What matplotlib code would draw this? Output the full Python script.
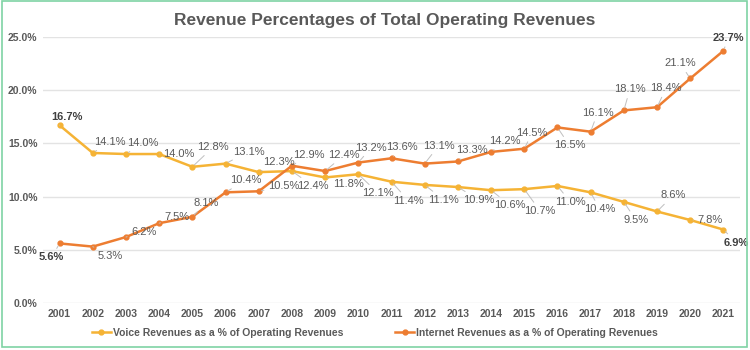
"""
Revenue percentages of total operating revenues, 2001-2021.
"""

import matplotlib.pyplot as plt
from matplotlib.patches import Rectangle

plt.rcParams['font.family'] = ['Liberation Sans', 'DejaVu Sans']

years = [str(y) for y in range(2001, 2022)]
voice = [16.7, 14.1, 14.0, 14.0, 12.8, 13.1, 12.3, 12.4, 11.8, 12.1, 11.4,
         11.1, 10.9, 10.6, 10.7, 11.0, 10.4, 9.5, 8.6, 7.8, 6.9]
internet = [5.6, 5.3, 6.2, 7.5, 8.1, 10.4, 10.5, 12.9, 12.4, 13.2, 13.6,
            13.1, 13.3, 14.2, 14.5, 16.5, 16.1, 18.1, 18.4, 21.1, 23.7]
yticks = [0, 5, 10, 15, 20, 25]

voice_name = 'Voice Revenues as a % of Operating Revenues'
internet_name = 'Internet Revenues as a % of Operating Revenues'

# label offsets in pixels (dx, dy), dy positive = up
voice_off = [(7, 8), (17, 11), (17, 11), (20, 0), (21, 20), (23, 12), (20, 10),
             (21, -15), (23, -7), (20, -19), (17, -19), (19, -15), (21, -13),
             (19, -15), (16, -22), (13, -16), (9, -17), (12, -18), (16, 16),
             (20, 0), (13, -13)]
internet_off = [(-8, -14), (17, -9), (18, 5), (18, 6), (14, 14), (20, 12), (25, 5),
                (17, 11), (19, 16), (13, 15), (10, 11), (14, 18), (14, 11),
                (14, 11), (8, 16), (12, -18), (7, 19), (6, 21), (9, 19),
                (-10, 15), (5, 13)]

VOICE_C = '#F5B335'
NET_C = '#ED7D31'
TXT = '#595959'

fig = plt.figure(figsize=(7.5, 3.5), dpi=100)
ax = fig.add_axes([43 / 750, 47 / 350, 697 / 750, 266 / 350])

x = list(range(len(years)))
ax.plot(x, voice, color=VOICE_C, lw=1.8, marker='o', ms=3.5, label=voice_name, zorder=3)
ax.plot(x, internet, color=NET_C, lw=1.8, marker='o', ms=3.5, label=internet_name, zorder=3)


def label_series(vals, offs):
    n = len(vals)
    for i, (v, (dx, dy)) in enumerate(zip(vals, offs)):
        bold = i in (0, n - 1)
        ax.annotate(f'{v:.1f}%', (i, v), xytext=(dx, dy), textcoords='offset pixels',
                    ha='center', va='center', fontsize=8, color='#404040' if bold else TXT,
                    fontweight='bold' if bold else 'normal', zorder=4,
                    arrowprops=dict(arrowstyle='-', color='#bfbfbf', lw=0.7,
                                    shrinkA=1, shrinkB=2))


label_series(voice, voice_off)
label_series(internet, internet_off)

ax.set_xlim(-0.5, len(years) - 0.5)
ax.set_ylim(0, 25)
ax.set_xticks(x)
ax.set_xticklabels(years)
ax.set_yticks(yticks)
ax.set_yticklabels([f'{t:.1f}%' for t in yticks])
ax.tick_params(length=0, labelsize=7.5, labelcolor=TXT, pad=4)
for lab in ax.get_xticklabels() + ax.get_yticklabels():
    lab.set_fontweight('bold')
ax.grid(axis='y', color='#e3e3e3', lw=1)
ax.set_axisbelow(True)
for s in ax.spines.values():
    s.set_visible(False)

fig.text(0.513, 0.94, 'Revenue Percentages of Total Operating Revenues',
         ha='center', va='center', fontsize=12.5, fontweight='bold', color=TXT)

leg = fig.legend(loc='center', bbox_to_anchor=(0.5, 17 / 350), ncol=2, frameon=False,
                 fontsize=7.5, handlelength=1.8, handletextpad=0.2, columnspacing=5)
for t in leg.get_texts():
    t.set_color(TXT)
    t.set_fontweight('bold')

fig.patches.append(Rectangle((2 / 750, 3 / 350), 745 / 750, 346 / 350, transform=fig.transFigure,
                             fill=False, edgecolor='#7fd3a4', lw=1.2))

fig.savefig('out.png', dpi=100)
